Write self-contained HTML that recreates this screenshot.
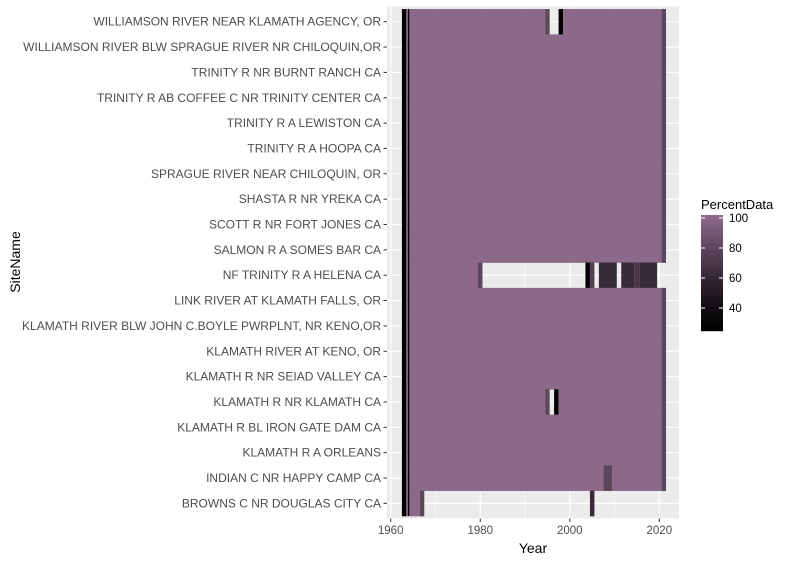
<!DOCTYPE html>
<html><head><meta charset="utf-8"><style>
body{margin:0;background:#fff;}
svg{display:block;font-family:"Liberation Sans",Arial,sans-serif;}
</style></head><body>
<svg id="chart" width="798" height="562" viewBox="0 0 798 562" xmlns="http://www.w3.org/2000/svg">
<rect x="0" y="0" width="798" height="562" fill="#fff"/>
<rect x="387" y="6.5" width="292" height="512" fill="#EBEBEB"/>
<g id="grid"></g><g id="tiles"></g><g id="axes"></g><g id="legend"></g>
<text x="533" y="553" font-size="14" text-anchor="middle" fill="#000">Year</text>
<text transform="translate(20,262) rotate(-90)" font-size="14" text-anchor="middle" fill="#000">SiteName</text>
</svg>
<script>
const sites=["WILLIAMSON RIVER NEAR KLAMATH AGENCY, OR","WILLIAMSON RIVER BLW SPRAGUE RIVER NR CHILOQUIN,OR","TRINITY R NR BURNT RANCH CA","TRINITY R AB COFFEE C NR TRINITY CENTER CA","TRINITY R A LEWISTON CA","TRINITY R A HOOPA CA","SPRAGUE RIVER NEAR CHILOQUIN, OR","SHASTA R NR YREKA CA","SCOTT R NR FORT JONES CA","SALMON R A SOMES BAR CA","NF TRINITY R A HELENA CA","LINK RIVER AT KLAMATH FALLS, OR","KLAMATH RIVER BLW JOHN C.BOYLE PWRPLNT, NR KENO,OR","KLAMATH RIVER AT KENO, OR","KLAMATH R NR SEIAD VALLEY CA","KLAMATH R NR KLAMATH CA","KLAMATH R BL IRON GATE DAM CA","KLAMATH R A ORLEANS","INDIAN C NR HAPPY CAMP CA","BROWNS C NR DOUGLAS CITY CA"];
// runs of constant PercentData: site index, start year, end year, value
const runSite =[0,0,0,0,0,0, 1,1,1, 2,2,2, 3,3,3, 4,4,4, 5,5,5, 6,6,6, 7,7,7, 8,8,8, 9,9,9, 10,10,10,10,10,10,10,10,10, 11,11,11, 12,12,12, 13,13,13, 14,14,14, 15,15,15,15,15,15, 16,16,16, 17,17,17, 18,18,18,18,18, 19,19,19,19];
const runStart=[1963,1964,1995,1998,1999,2021, 1963,1964,2021, 1963,1964,2021, 1963,1964,2021, 1963,1964,2021, 1963,1964,2021, 1963,1964,2021, 1963,1964,2021, 1963,1964,2021, 1963,1964,2021, 1963,1964,1980,2004,2005,2007,2012,2015,2016, 1963,1964,2021, 1963,1964,2021, 1963,1964,2021, 1963,1964,2021, 1963,1964,1995,1997,1998,2021, 1963,1964,2021, 1963,1964,2021, 1963,1964,2008,2010,2021, 1963,1964,1967,2005];
const runEnd  =[1963,1994,1995,1998,2020,2021, 1963,2020,2021, 1963,2020,2021, 1963,2020,2021, 1963,2020,2021, 1963,2020,2021, 1963,2020,2021, 1963,2020,2021, 1963,2020,2021, 1963,2020,2021, 1963,1979,1980,2004,2005,2010,2014,2015,2019, 1963,2020,2021, 1963,2020,2021, 1963,2020,2021, 1963,2020,2021, 1963,1994,1995,1997,2020,2021, 1963,2020,2021, 1963,2020,2021, 1963,2007,2009,2020,2021, 1963,1966,1967,2005];
const runValue=[24,100,80,24,100,80, 24,100,80, 24,100,80, 24,100,80, 24,100,80, 24,100,80, 24,100,80, 24,100,80, 24,100,80, 24,100,80, 24,100,80,24,75,62,62,70,62, 24,100,80, 24,100,80, 24,100,80, 24,100,80, 24,100,80,24,100,80, 24,100,80, 24,100,80, 24,100,80,100,80, 24,100,80,62];
const xTicks=[1960,1980,2000,2020];
const xMinor=[1970,1990,2010];
const legendTicks=[40,60,80,100];
const vlineYear=1964;

const NS="http://www.w3.org/2000/svg";
const X=y=>390.7+(y-1960)*4.477;
const Y=i=>21.7+i*25.35;
const RH=25.35;
const vMin=24,vMax=100;
function col(v){let t=Math.max(0,Math.min(1,(v-vMin)/(vMax-vMin)));t=Math.pow(t,1.3);
 return `rgb(${Math.round(140*t)},${Math.round(104*t)},${Math.round(137*t)})`;}
function mk(tag,attrs,parent){const e=document.createElementNS(NS,tag);for(const k in attrs)e.setAttribute(k,attrs[k]);parent.appendChild(e);return e;}
const grid=document.getElementById('grid'),tiles=document.getElementById('tiles'),axes=document.getElementById('axes'),leg=document.getElementById('legend');
xMinor.forEach(v=>{const l=mk('line',{x1:X(v),x2:X(v),y1:6.5,y2:518.5,stroke:'#fff','stroke-width':0.6},grid);

});
xTicks.forEach(v=>{const l=mk('line',{x1:X(v),x2:X(v),y1:6.5,y2:518.5,stroke:'#fff','stroke-width':1.2},grid);


const t=mk('line',{x1:X(v),x2:X(v),y1:518.5,y2:522,stroke:'#333','stroke-width':1},axes);


const tx=mk('text',{x:X(v),y:534,'font-size':11.5,'text-anchor':'middle',fill:'#4D4D4D'},axes);tx.textContent=v;

});
sites.forEach((s,i)=>{const l=mk('line',{x1:387,x2:679,y1:Y(i),y2:Y(i),stroke:'#fff','stroke-width':1.2},grid);


const t=mk('line',{x1:383.5,x2:387,y1:Y(i),y2:Y(i),stroke:'#333','stroke-width':1},axes);


const tx=mk('text',{x:381,y:Y(i)+4,'font-size':12,'text-anchor':'end',fill:'#4D4D4D'},axes);tx.textContent=s;

});
runSite.forEach((si,k)=>{const x0=X(runStart[k]-0.5),x1=X(runEnd[k]+0.5);
const r=mk('rect',{x:x0,y:Y(si)-RH/2,width:x1-x0,height:RH+0.3,fill:col(runValue[k])},tiles);

});
const vl=mk('line',{x1:X(vlineYear),x2:X(vlineYear),y1:Y(0)-RH/2,y2:Y(19)+RH/2,stroke:'#000','stroke-width':1.3},tiles);


// legend
const lt=mk('text',{x:701,y:209,'font-size':13,fill:'#000'},leg);lt.textContent='PercentData';


const LY=v=>218+(100-v)*1.5;
for(let y=215;y<331;y++){const v=100-(y-218+0.5)/1.5;
 const r=mk('rect',{x:701,y:y,width:22,height:1.2,fill:col(v)},leg);
 
 }
legendTicks.forEach(v=>{[701,719].forEach(x=>{const l=mk('line',{x1:x,x2:x+4,y1:LY(v),y2:LY(v),stroke:'#fff','stroke-width':1},leg);
 
 });
 const t=mk('text',{x:729,y:LY(v)+4,'font-size':11.5,fill:'#000'},leg);t.textContent=v;
 
 });
</script>
</body></html>
